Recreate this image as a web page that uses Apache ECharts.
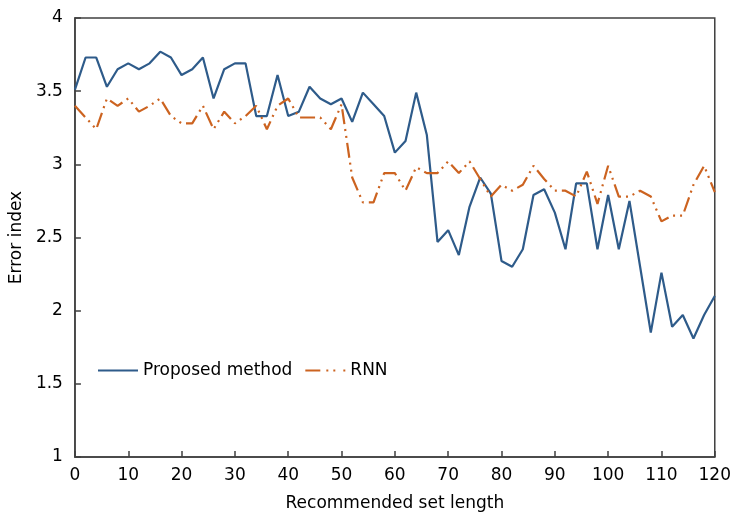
<!DOCTYPE html>
<html>
<head>
<meta charset="utf-8">
<script src="https://cdn.jsdelivr.net/npm/echarts@6/dist/echarts.min.js"></script>
<style>html,body{margin:0;padding:0;background:#fff}#c{width:734px;height:517px}</style>
</head>
<body>
<div id="c"></div>
<script>
var setLength = [0,2,4,6,8,10,12,14,16,18,20,22,24,26,28,30,32,34,36,38,40,42,44,46,48,50,52,54,56,58,60,62,64,66,68,70,72,74,76,78,80,82,84,86,88,90,92,94,96,98,100,102,104,106,108,110,112,114,116,118,120];
var proposed = [3.51,3.73,3.73,3.53,3.65,3.69,3.65,3.69,3.77,3.73,3.61,3.65,3.73,3.45,3.65,3.69,3.69,3.33,3.33,3.61,3.33,3.36,3.53,3.45,3.41,3.45,3.29,3.49,3.41,3.33,3.08,3.16,3.49,3.20,2.47,2.55,2.38,2.71,2.91,2.80,2.34,2.30,2.42,2.79,2.83,2.67,2.42,2.87,2.87,2.42,2.79,2.42,2.75,2.30,1.85,2.26,1.89,1.97,1.81,1.97,2.10];
var rnn = [3.40,3.32,3.24,3.45,3.40,3.45,3.36,3.40,3.45,3.33,3.28,3.28,3.40,3.24,3.36,3.28,3.33,3.40,3.24,3.40,3.45,3.32,3.32,3.32,3.24,3.41,2.91,2.74,2.74,2.94,2.94,2.82,2.98,2.94,2.94,3.02,2.94,3.02,2.90,2.78,2.86,2.82,2.86,2.99,2.90,2.82,2.82,2.78,2.95,2.73,2.99,2.78,2.78,2.82,2.78,2.61,2.65,2.65,2.86,2.99,2.81];
var seriesNames = ['Proposed method','RNN'];
var xTitle = 'Recommended set length';
var yTitle = 'Error index';

function pairs(ys){ return setLength.map(function(x,i){ return [x, ys[i]]; }); }

var font = 'DejaVu Sans, Verdana, sans-serif';
var chart = echarts.init(document.getElementById('c'));
chart.setOption({
  animation: false,
  backgroundColor: '#fff',
  grid: { left: 74, right: 16, top: 18, bottom: 57, show: true, borderColor: '#404040', borderWidth: 1.5 },
  legend: {
    left: 93, top: 357, itemWidth: 40, itemHeight: 12, itemGap: 13,
    textStyle: { fontFamily: font, fontSize: 17, color: '#000' },
    data: [
      { name: seriesNames[0], icon: 'path://M0,0 L40,0 L40,2 L0,2 Z' },
      { name: seriesNames[1], icon: 'path://M0,0 L15,0 L15,2 L0,2 Z M21,0 L23,0 L23,2 L21,2 Z M28,0 L30,0 L30,2 L28,2 Z M38,0 L40,0 L40,2 L38,2 Z' }
    ]
  },
  xAxis: {
    type: 'value', min: 0, max: 120, interval: 10,
    name: xTitle, nameLocation: 'middle', nameGap: 38,
    nameTextStyle: { fontFamily: font, fontSize: 17, color: '#000' },
    axisLine: { lineStyle: { color: '#404040', width: 1.5 } },
    axisTick: { inside: true, length: 6, lineStyle: { color: '#404040', width: 1.5 } },
    axisLabel: { fontFamily: font, fontSize: 17, color: '#000', margin: 10 },
    splitLine: { show: false }
  },
  yAxis: {
    type: 'value', min: 1, max: 4, interval: 0.5,
    name: yTitle, nameLocation: 'middle', nameGap: 45,
    nameTextStyle: { fontFamily: font, fontSize: 17, color: '#000' },
    axisLine: { show: true, lineStyle: { color: '#404040', width: 1.5 } },
    axisTick: { show: true, inside: true, length: 6, lineStyle: { color: '#404040', width: 1.5 } },
    axisLabel: { fontFamily: font, fontSize: 17, color: '#000', margin: 12 },
    splitLine: { show: false }
  },
  series: [
    { name: seriesNames[0], type: 'line', data: pairs(proposed), showSymbol: false, symbol: 'none',
      lineStyle: { color: '#2E5B8A', width: 2.2 }, itemStyle: { color: '#2E5B8A' } },
    { name: seriesNames[1], type: 'line', data: pairs(rnn), showSymbol: false, symbol: 'none',
      lineStyle: { color: '#CC6320', width: 2.2, type: [15, 5, 2, 5, 2, 5] }, itemStyle: { color: '#CC6320' } }
  ]
});
</script>
</body>
</html>
